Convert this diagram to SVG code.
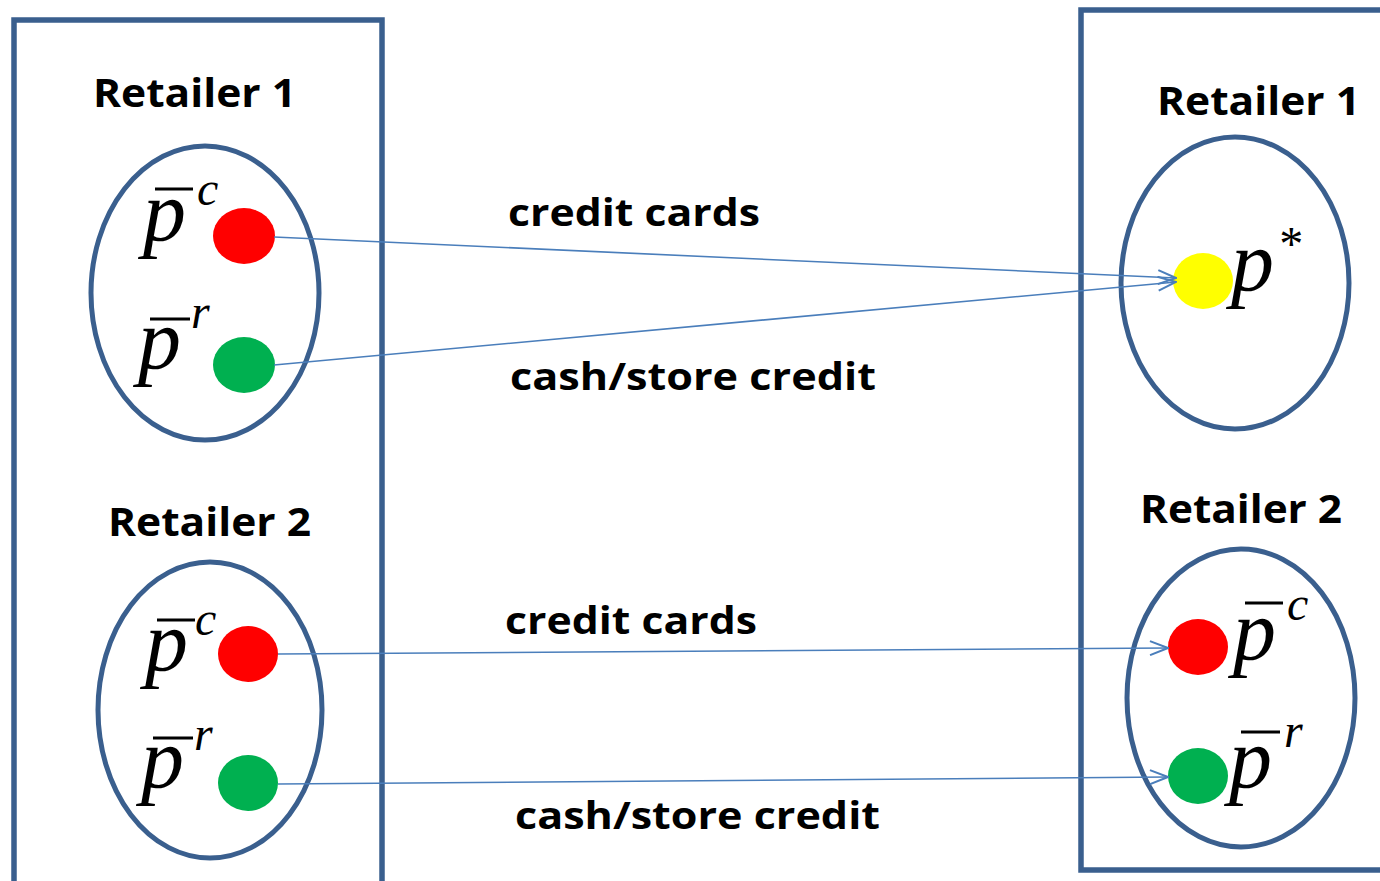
<svg xmlns="http://www.w3.org/2000/svg" width="1380" height="881" viewBox="0 0 1380 881">
  <style>
    .frame { fill: none; stroke: #3A5F8E; stroke-width: 5.5; }
    .oval { fill: none; stroke: #3A5F8E; stroke-width: 5; }
    .title { font-family: "Open Sans", "Liberation Sans", sans-serif; font-weight: 700; font-size: 40px; fill: #000; }
    .lbl { font-family: "Open Sans", "Liberation Sans", sans-serif; font-weight: 700; font-size: 38px; fill: #000; }
    .math { font-family: "Liberation Serif", "Times New Roman", serif; font-style: italic; fill: #000; }
    .p { font-size: 86px; }
    .sup { font-size: 48px; }
    .bar { stroke: #000; stroke-width: 3; }
    .flow { fill: none; stroke: #4A7EBB; stroke-width: 1.6; marker-end: url(#head); }
    .red { fill: #FF0000; }
    .green { fill: #00B050; }
    .yellow { fill: #FFFF00; }
  </style>
  <defs>
    <marker id="head" viewBox="0 0 20 16" markerWidth="20" markerHeight="16" refX="19" refY="8" orient="auto" markerUnits="userSpaceOnUse">
      <path d="M1,1 L19,8 L1,15" fill="none" stroke="#4A7EBB" stroke-width="2"/>
    </marker>
  </defs>
  <rect width="1380" height="881" fill="#fff"/>

  <!-- left column: current prices -->
  <g id="left-panel">
    <rect class="frame" x="14" y="20" width="368" height="880"/>
  </g>
  <g id="left-retailer1">
    <text class="title" x="93" y="107" textLength="203" lengthAdjust="spacingAndGlyphs">Retailer 1</text>
    <ellipse class="oval" cx="205" cy="293" rx="114" ry="147"/>
    <line class="bar" x1="155" y1="189" x2="193" y2="189"/>
    <text class="math p" x="143" y="240">p</text>
    <text class="math sup" x="197" y="205">c</text>
    <ellipse class="red" cx="244" cy="236" rx="31" ry="28"/>
    <line class="bar" x1="150" y1="319" x2="190" y2="319"/>
    <text class="math p" x="138" y="368">p</text>
    <text class="math sup" x="191" y="328">r</text>
    <ellipse class="green" cx="244" cy="365" rx="31" ry="28"/>
  </g>
  <g id="left-retailer2">
    <text class="title" x="108" y="536" textLength="203" lengthAdjust="spacingAndGlyphs">Retailer 2</text>
    <ellipse class="oval" cx="210" cy="710" rx="112" ry="148"/>
    <line class="bar" x1="157" y1="620" x2="195" y2="620"/>
    <text class="math p" x="145" y="670">p</text>
    <text class="math sup" x="195" y="635">c</text>
    <ellipse class="red" cx="248" cy="654" rx="30" ry="28"/>
    <line class="bar" x1="153" y1="738" x2="193" y2="738"/>
    <text class="math p" x="141" y="787">p</text>
    <text class="math sup" x="194" y="750">r</text>
    <ellipse class="green" cx="248" cy="783" rx="30" ry="28"/>
  </g>

  <!-- right column: resulting prices -->
  <g id="right-panel">
    <rect class="frame" x="1081" y="10" width="340" height="860"/>
  </g>
  <g id="right-retailer1">
    <text class="title" x="1157" y="115" textLength="203" lengthAdjust="spacingAndGlyphs">Retailer 1</text>
    <ellipse class="oval" cx="1235" cy="283" rx="114" ry="146"/>
    <ellipse class="yellow" cx="1203" cy="281" rx="30" ry="28"/>
    <text class="math p" x="1231" y="290">p</text>
    <text class="math sup" x="1277" y="260">*</text>
  </g>
  <g id="right-retailer2">
    <text class="title" x="1140" y="523" textLength="202" lengthAdjust="spacingAndGlyphs">Retailer 2</text>
    <ellipse class="oval" cx="1241" cy="698" rx="114" ry="149"/>
    <ellipse class="red" cx="1198" cy="647" rx="30" ry="28"/>
    <line class="bar" x1="1245" y1="603" x2="1283" y2="603"/>
    <text class="math p" x="1233" y="659">p</text>
    <text class="math sup" x="1287" y="620">c</text>
    <ellipse class="green" cx="1198" cy="776" rx="30" ry="28"/>
    <line class="bar" x1="1241" y1="732" x2="1280" y2="732"/>
    <text class="math p" x="1229" y="787">p</text>
    <text class="math sup" x="1284" y="747">r</text>
  </g>

  <!-- payment flows -->
  <g id="connectors">
    <line class="flow" x1="274" y1="237" x2="1176" y2="278"/>
    <line class="flow" x1="274" y1="365" x2="1176" y2="282"/>
    <line class="flow" x1="278" y1="654" x2="1168" y2="648"/>
    <line class="flow" x1="278" y1="784" x2="1168" y2="777"/>
  </g>
  <g id="flow-labels">
    <text class="lbl" x="508" y="226" textLength="252" lengthAdjust="spacingAndGlyphs">credit cards</text>
    <text class="lbl" x="510" y="390" textLength="366" lengthAdjust="spacingAndGlyphs">cash/store credit</text>
    <text class="lbl" x="505" y="634" textLength="252" lengthAdjust="spacingAndGlyphs">credit cards</text>
    <text class="lbl" x="515" y="829" textLength="365" lengthAdjust="spacingAndGlyphs">cash/store credit</text>
  </g>
</svg>
